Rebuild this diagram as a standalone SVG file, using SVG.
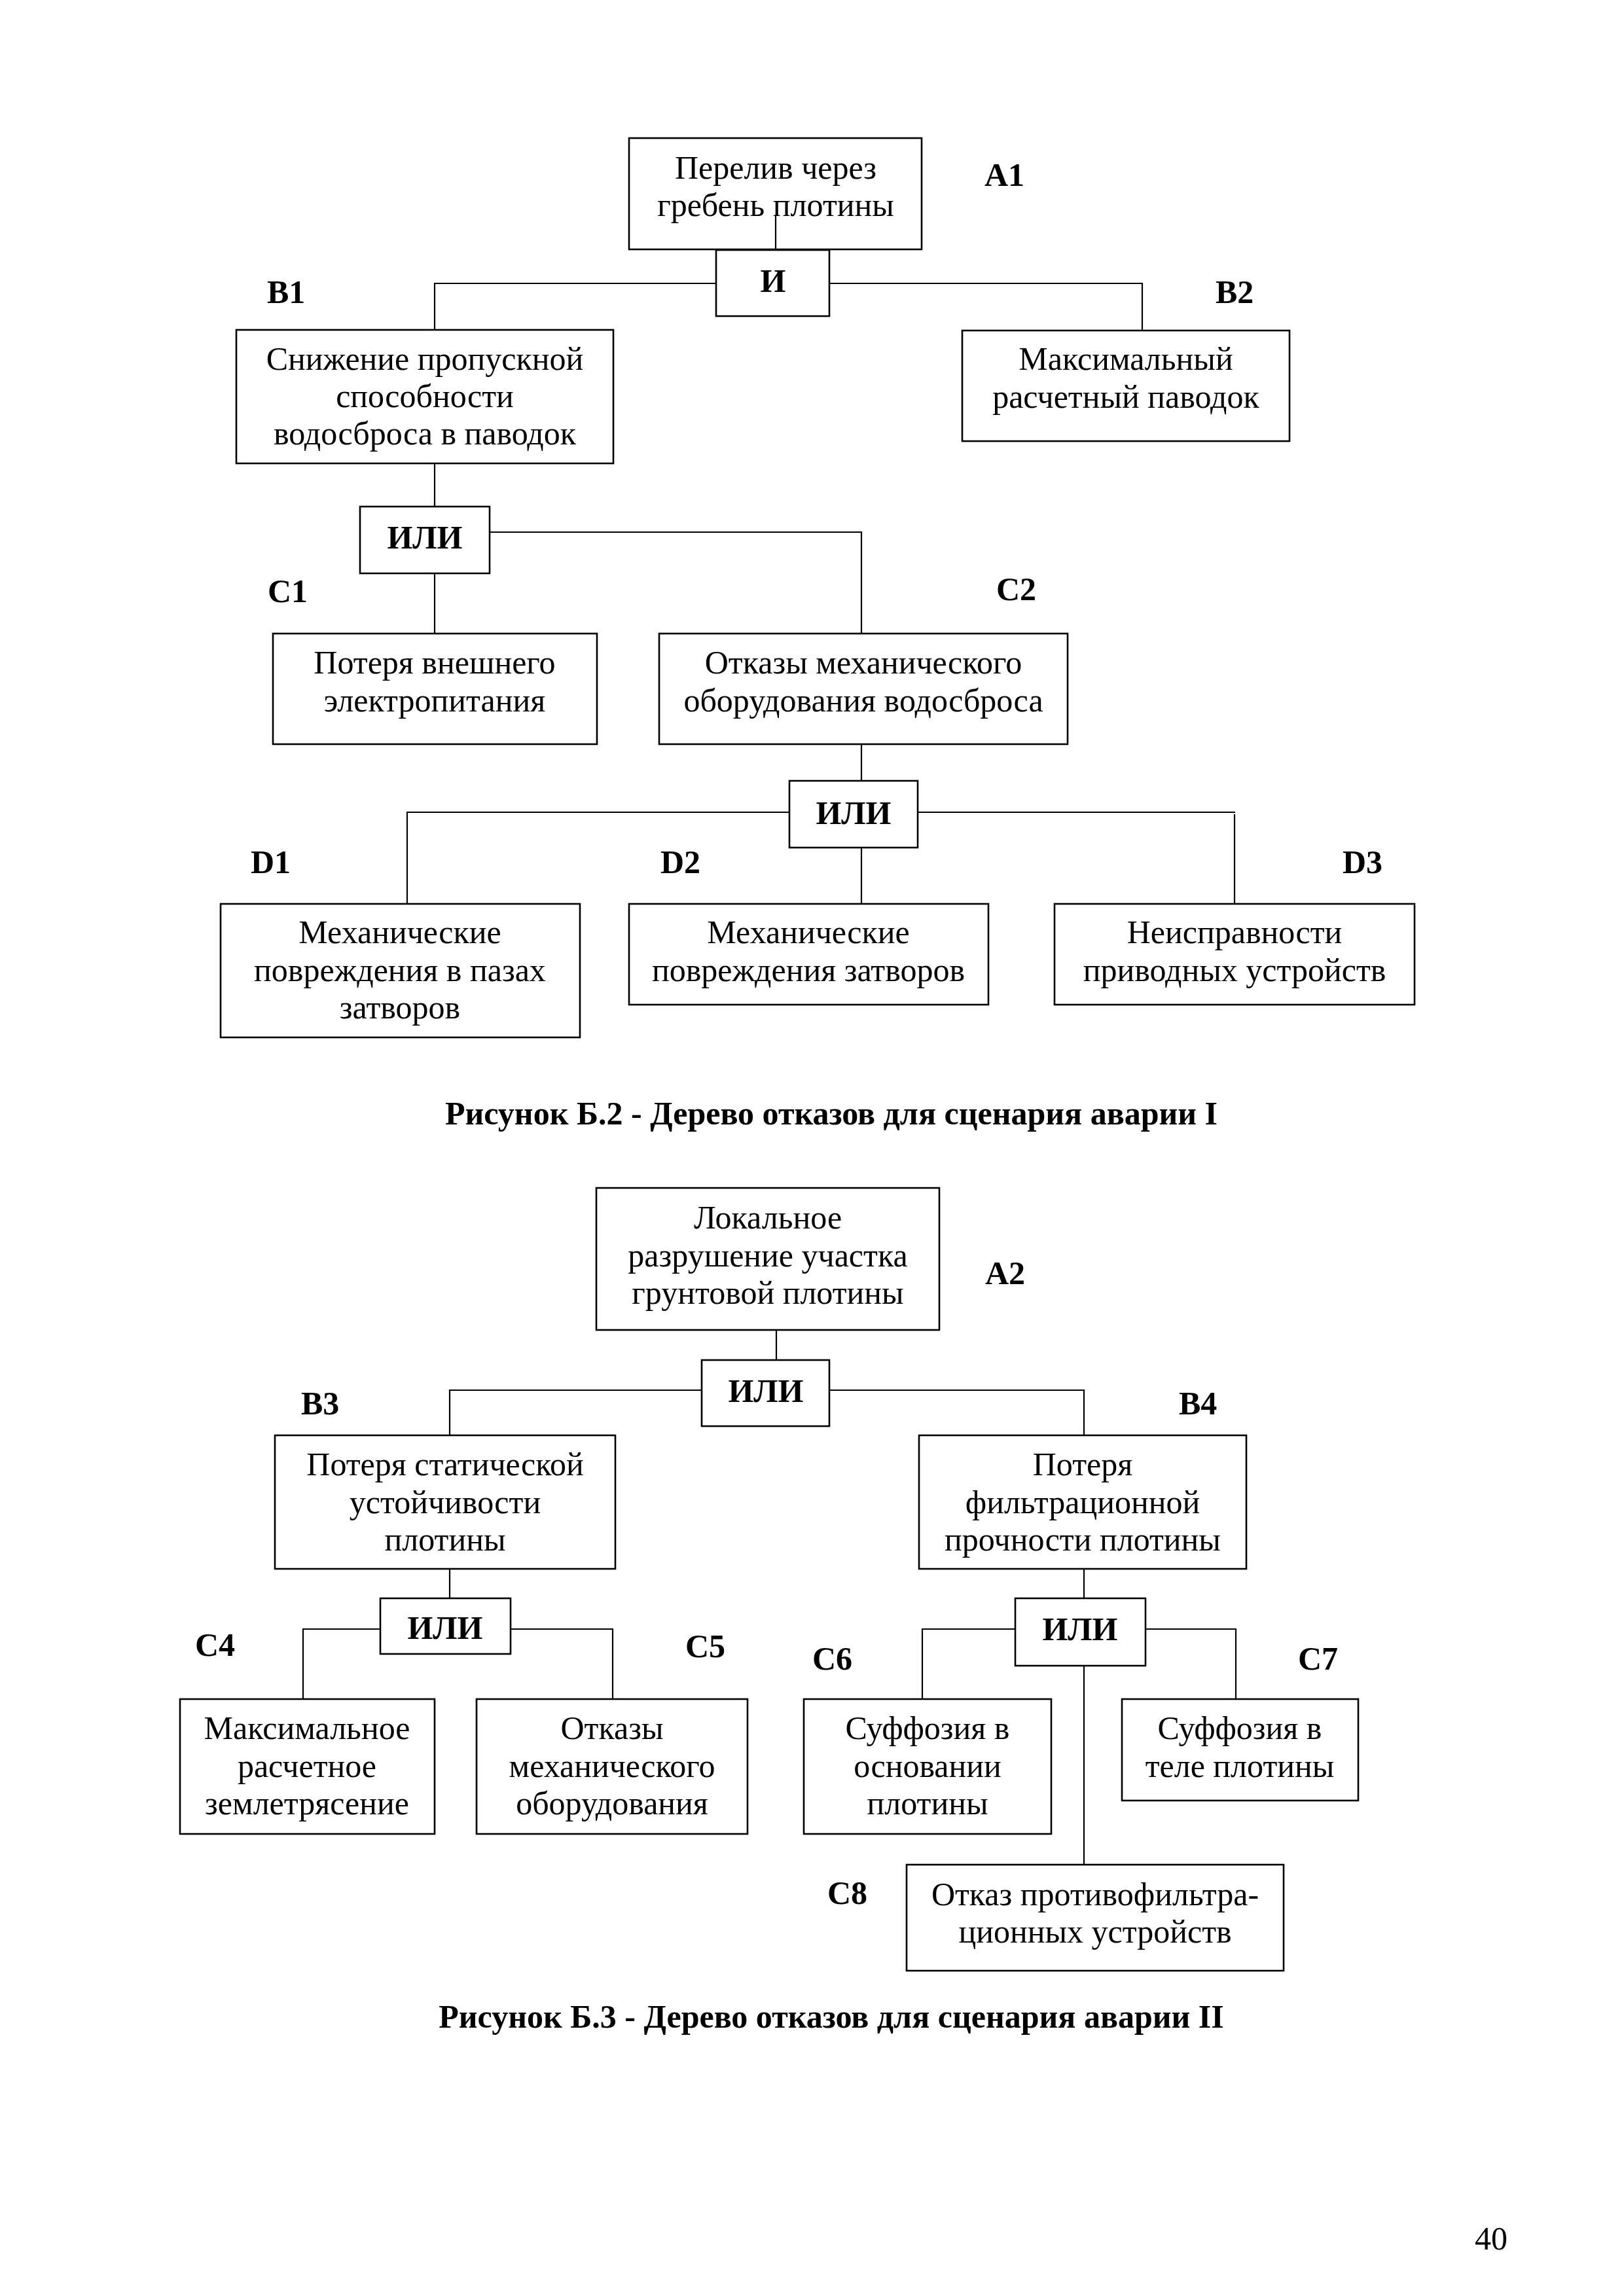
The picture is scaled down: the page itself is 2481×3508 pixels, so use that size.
<svg xmlns="http://www.w3.org/2000/svg" width="2481" height="3508" viewBox="0 0 2481 3508">
<style>
.bx{fill:#fff;stroke:#000;stroke-width:2.6}
.t{font-family:"Liberation Serif","Times New Roman",serif;font-size:50px;fill:#000;text-anchor:middle}
.b{font-family:"Liberation Serif","Times New Roman",serif;font-size:50px;font-weight:bold;fill:#000}
.bc{text-anchor:middle}
.cn{fill:none;stroke:#000;stroke-width:2.2}
</style>
<rect width="2481" height="3508" fill="#fff"/>

<!-- Diagram 1 -->
<g id="A1">
<rect class="bx" x="961" y="211" width="447" height="170"/>
<text class="t" x="1185" y="273">Перелив через</text>
<text class="t" x="1185" y="330">гребень плотины</text>
<text class="b" x="1504" y="284">A1</text>
</g>
<g id="gate-and-1">
<rect class="bx" x="1094" y="382" width="173" height="101"/>
<text class="b bc" x="1181" y="446">И</text>
</g>
<g id="B1">
<rect class="bx" x="361" y="504" width="576" height="204"/>
<text class="t" x="649" y="565">Снижение пропускной</text>
<text class="t" x="649" y="622">способности</text>
<text class="t" x="649" y="679">водосброса в паводок</text>
<text class="b" x="408" y="463">B1</text>
</g>
<g id="B2">
<rect class="bx" x="1470" y="505" width="500" height="169"/>
<text class="t" x="1720" y="565">Максимальный</text>
<text class="t" x="1720" y="623">расчетный паводок</text>
<text class="b" x="1857" y="463">B2</text>
</g>
<g id="gate-or-1">
<rect class="bx" x="550" y="774" width="198" height="102"/>
<text class="b bc" x="649" y="838">ИЛИ</text>
</g>
<g id="C1">
<rect class="bx" x="417" y="968" width="495" height="169"/>
<text class="t" x="664" y="1029">Потеря внешнего</text>
<text class="t" x="664" y="1087">электропитания</text>
<text class="b" x="409" y="920">C1</text>
</g>
<g id="C2">
<rect class="bx" x="1007" y="968" width="624" height="169"/>
<text class="t" x="1319" y="1029">Отказы механического</text>
<text class="t" x="1319" y="1087">оборудования водосброса</text>
<text class="b" x="1522" y="917">C2</text>
</g>
<g id="gate-or-2">
<rect class="bx" x="1206" y="1193" width="196" height="102"/>
<text class="b bc" x="1304" y="1259">ИЛИ</text>
</g>
<g id="D1">
<rect class="bx" x="337" y="1381" width="549" height="204"/>
<text class="t" x="611" y="1441">Механические</text>
<text class="t" x="611" y="1499">повреждения в пазах</text>
<text class="t" x="611" y="1556">затворов</text>
<text class="b" x="383" y="1334">D1</text>
</g>
<g id="D2">
<rect class="bx" x="961" y="1381" width="549" height="154"/>
<text class="t" x="1235" y="1441">Механические</text>
<text class="t" x="1235" y="1499">повреждения затворов</text>
<text class="b" x="1009" y="1334">D2</text>
</g>
<g id="D3">
<rect class="bx" x="1611" y="1381" width="550" height="154"/>
<text class="t" x="1886" y="1441">Неисправности</text>
<text class="t" x="1886" y="1499">приводных устройств</text>
<text class="b" x="2051" y="1334">D3</text>
</g>
<text class="b bc" x="1270" y="1718">Рисунок Б.2 - Дерево отказов для сценария аварии I</text>

<!-- Diagram 2 -->
<g id="A2">
<rect class="bx" x="911" y="1815" width="524" height="217"/>
<text class="t" x="1173" y="1877">Локальное</text>
<text class="t" x="1173" y="1935">разрушение участка</text>
<text class="t" x="1173" y="1992">грунтовой плотины</text>
<text class="b" x="1505" y="1962">A2</text>
</g>
<g id="gate-or-3">
<rect class="bx" x="1072" y="2078" width="195" height="101"/>
<text class="b bc" x="1170" y="2142">ИЛИ</text>
</g>
<g id="B3">
<rect class="bx" x="420" y="2193" width="520" height="204"/>
<text class="t" x="680" y="2254">Потеря статической</text>
<text class="t" x="680" y="2312">устойчивости</text>
<text class="t" x="680" y="2369">плотины</text>
<text class="b" x="460" y="2161">B3</text>
</g>
<g id="B4">
<rect class="bx" x="1404" y="2193" width="500" height="204"/>
<text class="t" x="1654" y="2254">Потеря</text>
<text class="t" x="1654" y="2312">фильтрационной</text>
<text class="t" x="1654" y="2369">прочности плотины</text>
<text class="b" x="1801" y="2161">B4</text>
</g>
<g id="gate-or-4">
<rect class="bx" x="581" y="2442" width="199" height="85"/>
<text class="b bc" x="680" y="2504">ИЛИ</text>
</g>
<g id="gate-or-5">
<rect class="bx" x="1551" y="2442" width="199" height="103"/>
<text class="b bc" x="1650" y="2506">ИЛИ</text>
</g>
<g id="C4">
<rect class="bx" x="275" y="2596" width="389" height="206"/>
<text class="t" x="469" y="2657">Максимальное</text>
<text class="t" x="469" y="2715">расчетное</text>
<text class="t" x="469" y="2772">землетрясение</text>
<text class="b" x="298" y="2530">C4</text>
</g>
<g id="C5">
<rect class="bx" x="728" y="2596" width="414" height="206"/>
<text class="t" x="935" y="2657">Отказы</text>
<text class="t" x="935" y="2715">механического</text>
<text class="t" x="935" y="2772">оборудования</text>
<text class="b" x="1047" y="2532">C5</text>
</g>
<g id="C6">
<rect class="bx" x="1228" y="2596" width="378" height="206"/>
<text class="t" x="1417" y="2657">Суффозия в</text>
<text class="t" x="1417" y="2715">основании</text>
<text class="t" x="1417" y="2772">плотины</text>
<text class="b" x="1241" y="2551">C6</text>
</g>
<g id="C7">
<rect class="bx" x="1714" y="2596" width="361" height="155"/>
<text class="t" x="1894" y="2657">Суффозия в</text>
<text class="t" x="1894" y="2715">теле плотины</text>
<text class="b" x="1983" y="2551">C7</text>
</g>
<g id="C8">
<rect class="bx" x="1385" y="2849" width="576" height="162"/>
<text class="t" x="1673" y="2911">Отказ противофильтра-</text>
<text class="t" x="1673" y="2968">ционных устройств</text>
<text class="b" x="1264" y="2909">C8</text>
</g>
<text class="b bc" x="1270" y="3098">Рисунок Б.3 - Дерево отказов для сценария аварии II</text>

<text class="t" x="2278" y="3437">40</text>

<g id="connectors">
<path class="cn" d="M1185,328 V382"/>
<path class="cn" d="M1094,433 H664 V504"/>
<path class="cn" d="M1267,433 H1745 V505"/>
<path class="cn" d="M664,708 V774"/>
<path class="cn" d="M664,876 V968"/>
<path class="cn" d="M748,813 H1316 V968"/>
<path class="cn" d="M1316,1137 V1193"/>
<path class="cn" d="M1206,1241 H622 V1381"/>
<path class="cn" d="M1402,1241 H1887"/>
<path class="cn" d="M1886,1244 V1381"/>
<path class="cn" d="M1316,1295 V1381"/>
<path class="cn" d="M1186,2032 V2078"/>
<path class="cn" d="M1072,2124 H687 V2193"/>
<path class="cn" d="M1267,2124 H1656 V2193"/>
<path class="cn" d="M687,2397 V2442"/>
<path class="cn" d="M581,2489 H463 V2596"/>
<path class="cn" d="M780,2489 H936 V2596"/>
<path class="cn" d="M1656,2397 V2442"/>
<path class="cn" d="M1551,2489 H1409 V2596"/>
<path class="cn" d="M1750,2489 H1888 V2596"/>
<path class="cn" d="M1656,2545 V2849"/>
</g>
</svg>
